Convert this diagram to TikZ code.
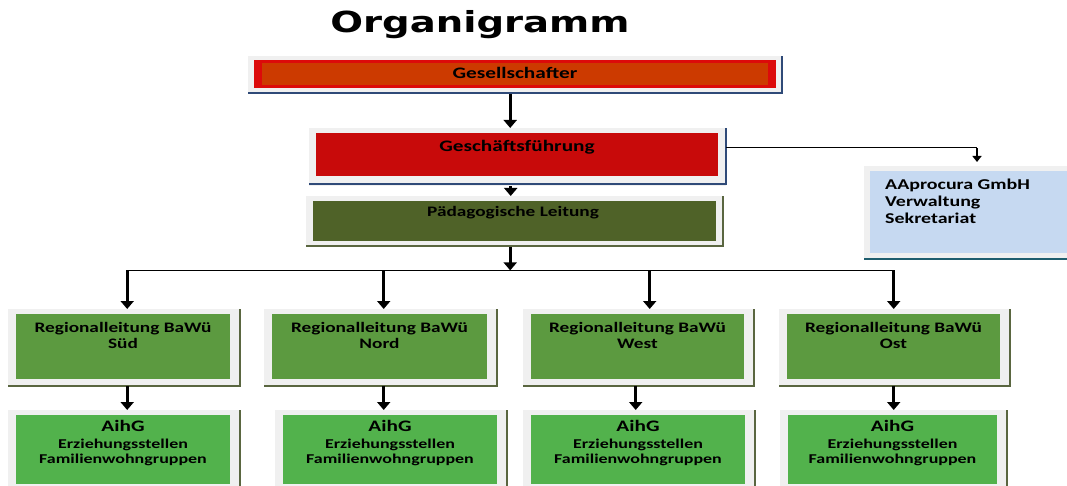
\documentclass[tikz,border=0pt]{standalone}
\usepackage{fontspec}
\setmainfont{Carlito}
\newfontfamily\titlefont{DejaVu Sans}
\usepackage{graphicx}
\usetikzlibrary{arrows.meta}
\newcommand\hs[1]{\scalebox{1.33}[1]{#1}}
\definecolor{framegray}{HTML}{F0F0F0}
\definecolor{gesred}{HTML}{DC0A0A}
\definecolor{gesorange}{HTML}{CC3A00}
\definecolor{gfred}{HTML}{C80A0A}
\definecolor{pedolive}{HTML}{4F6228}
\definecolor{reggreen}{HTML}{5C9A40}
\definecolor{aihgreen}{HTML}{52B24C}
\definecolor{aapblue}{HTML}{C6D9F1}
\definecolor{darkblue}{HTML}{2F4A78}
\definecolor{darkolive}{HTML}{5A6640}
\definecolor{darkteal}{HTML}{1F5E6E}
\begin{document}
\begin{tikzpicture}[x=1pt,y=-1pt,
  frame/.style={fill=framegray,draw=none,inner sep=0pt,anchor=north west},
  edgeline/.style={line width=1.6pt},
  arr/.style={line width=2.8pt,-{Triangle[width=13pt,length=8pt]}},
  thinarr/.style={line width=2pt,-{Triangle[width=9pt,length=6pt]}},
  txt/.style={inner sep=0pt,text=black,font=\bfseries\fontsize{14.5}{16}\selectfont,align=center},
  bigtxt/.style={inner sep=0pt,text=black,font=\bfseries\fontsize{16}{17}\selectfont,align=center}]
\useasboundingbox (0,0) rectangle (1067,486);
\fill[white] (0,0) rectangle (1067,486);
% title
\node[inner sep=0pt,font=\titlefont\bfseries\fontsize{29}{30}\selectfont] (title) at (480,25) {\hs{Organigramm}};
% Gesellschafter
\node[frame,minimum width=534,minimum height=38] (ges) at (248,56) {};
\fill[gesred] (254,60) rectangle (776,88);
\fill[gesorange] (262,63) rectangle (768,85);
\draw[edgeline,darkblue] (248,93) -- (782,93) -- (782,56);
\node[bigtxt] (gestxt) at (515,73) {\hs{Gesellschafter}};
% Geschaeftsfuehrung
\node[frame,minimum width=417,minimum height=58] (gf) at (309,128) {};
\fill[gfred] (316,133) rectangle (718,176);
\draw[edgeline,darkblue] (309,184) -- (726,184) -- (726,128);
\node[bigtxt] (gftxt) at (517,147) {\hs{Geschäftsführung}};
% Paedagogische Leitung
\node[frame,minimum width=417,minimum height=51] (ped) at (306,196) {};
\fill[pedolive] (313,201) rectangle (716,241);
\draw[edgeline,darkolive] (306,246) -- (723,246) -- (723,196);
\node[txt] (pedtxt) at (513,213) {\hs{Pädagogische Leitung}};
% AAprocura
\node[frame,minimum width=203,minimum height=93] (aap) at (864,166) {};
\fill[aapblue] (870,171) rectangle (1067,253);
\draw[edgeline,darkteal] (864,259) -- (1067,259);
\node[bigtxt,align=left,anchor=north west,font=\bfseries\fontsize{15}{17}\selectfont] (aaptxt) at (885,179) {\hs{AAprocura GmbH}\\\hs{Verwaltung}\\\hs{Sekretariat}};
% Regional boxes
\foreach \n/\xa/\xb/\lab in {sud/16/230/Süd, nord/272/487/Nord, west/531/744/West, ost/787/1000/Ost}{
  \node[frame,minimum width=\xb-\xa+18,minimum height=77] (\n) at (\xa-8,309) {};
  \fill[reggreen] (\xa,314) rectangle (\xb,379);
  \draw[edgeline,darkolive] (\xa-8,386) -- (\xb+10,386) -- (\xb+10,309);
  \node[txt] (\n txt) at ({(\xa+\xb)/2},335) {\hs{Regionalleitung BaWü}\\\hs{\lab}};
}
% AihG boxes
\foreach \n/\xa/\xb in {asud/16/230, anord/283/497, awest/531/745, aost/788/997}{
  \node[frame,minimum width=\xb-\xa+18,minimum height=76] (\n) at (\xa-8,410) {};
  \fill[aihgreen] (\xa,415) rectangle (\xb,484);
  \draw[edgeline,darkolive] (\xb+10,410) -- (\xb+10,486);
  \node[bigtxt] (\n a) at ({(\xa+\xb)/2},426) {\hs{AihG}};
  \node[txt,font=\bfseries\fontsize{13.5}{15}\selectfont] (\n b) at ({(\xa+\xb)/2},452) {\hs{Erziehungsstellen}\\\hs{Familienwohngruppen}};
}
% connectors
\draw[arr] ([xshift=-5pt]ges.south) -- ([xshift=-5pt]ges.south |- gf.north);
\draw[arr] ([xshift=-7pt]gf.south) -- ([xshift=-7pt]gf.south |- ped.north);
\coordinate (gfr) at ([yshift=-20pt]gf.north east);
\coordinate (aapc) at ([xshift=113pt]aap.north west);
\draw[line width=1pt] (gfr) -- (gfr -| aapc);
\draw[thinarr] (gfr -| aapc) -- ([yshift=4pt]aapc);
\coordinate (busc) at ([xshift=-4.5pt,yshift=-23pt]ped.south);
\draw[arr] ([xshift=-4.5pt]ped.south) -- (busc);
\coordinate (busl) at ([xshift=3pt]sud.north |- busc);
\coordinate (busr) at ([xshift=-1pt]ost.north |- busc);
\draw[line width=1.4pt] (busl) -- (busr);
\draw[arr] (busl) -- ([xshift=3pt]sud.north);
\draw[arr] ([xshift=3pt]nord.north |- busc) -- ([xshift=3pt]nord.north);
\draw[arr] ([xshift=11pt]west.north |- busc) -- ([xshift=11pt]west.north);
\draw[arr] (busr) -- ([xshift=-1pt]ost.north);
\draw[arr] ([xshift=3pt]sud.south) -- ([xshift=3pt]sud.south |- asud.north);
\draw[arr] ([xshift=3pt]nord.south) -- ([xshift=3pt]nord.south |- anord.north);
\draw[arr] ([xshift=-3pt]west.south) -- ([xshift=-3pt]west.south |- awest.north);
\draw[arr] ([xshift=-1pt]ost.south) -- ([xshift=-1pt]ost.south |- aost.north);
\end{tikzpicture}
\end{document}
